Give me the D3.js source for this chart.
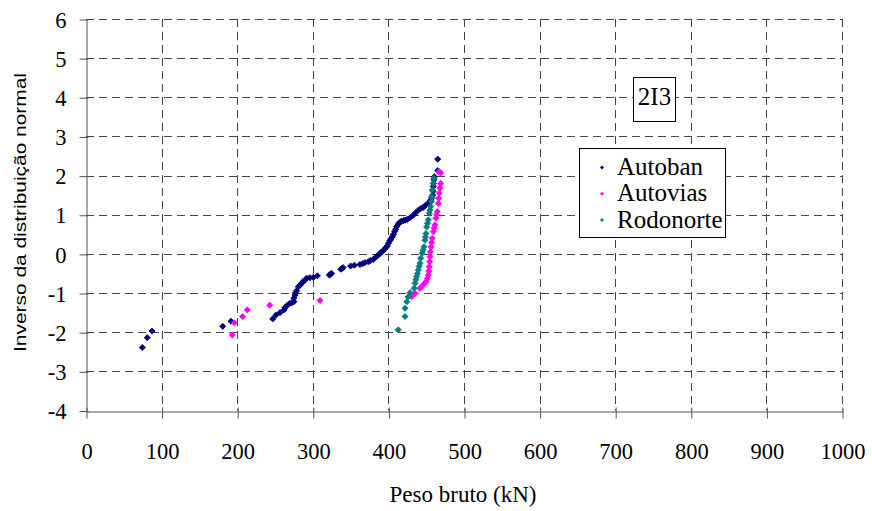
<!DOCTYPE html>
<html><head><meta charset="utf-8">
<script src="https://cdn.jsdelivr.net/npm/d3@7"></script>
<style>body{margin:0;background:#fff}svg{display:block}
.serif{font-family:"Liberation Serif","Times New Roman",Times,serif}
.sans{font-family:"Liberation Sans",Arial,Helvetica,sans-serif}</style>
</head><body>
<svg id="c" width="872" height="511"></svg>
<script>
const xTicks = [0,100,200,300,400,500,600,700,800,900,1000];
const yTicks = [-4,-3,-2,-1,0,1,2,3,4,5,6];
const seriesNames = ["Autoban","Autovias","Rodonorte"];
const seriesColors = ["#000080","#FF00FF","#008080"];
const boxLabel = "2I3";

const autobanX = [74.5,81,87.3,180.8,191.8,247,251.3,256.6,262,263.2,266,269,272,275,275,276.5,277,278.7,280.8,283,285.3,287,289.7,291.9,296,300.7,306,321.9,323,325,337,339,340,350,355,362.4,366,369,373.4,376,380,383,385.4,388.9,391,394.2,396,398.6,400,402,403.5,405.2,406.7,408.3,409.6,411,412.7,414.4,417,419.7,422,425,429,433,436,439.8,443,446.2,449,452.8,454.5,456.3,457.5,458.5,459,459.3,459.8,460.3,460.8,465.2,465.2];
const autobanY = [-2.39,-2.14,-1.97,-1.85,-1.72,-1.66,-1.56,-1.50,-1.43,-1.37,-1.32,-1.27,-1.25,-1.22,-1.13,-1.05,-1.0,-0.94,-0.84,-0.8,-0.75,-0.71,-0.67,-0.62,-0.61,-0.60,-0.56,-0.54,-0.52,-0.50,-0.39,-0.37,-0.35,-0.31,-0.29,-0.27,-0.25,-0.22,-0.20,-0.17,-0.14,-0.09,-0.05,0.01,0.05,0.10,0.15,0.20,0.27,0.34,0.39,0.44,0.50,0.57,0.63,0.70,0.75,0.80,0.83,0.85,0.86,0.88,0.93,0.99,1.05,1.12,1.16,1.19,1.24,1.29,1.33,1.38,1.44,1.50,1.60,1.72,1.80,1.89,1.97,2.13,2.42];

const autoviasX = [193.6,196.2,207.2,213.4,243,309.5,430.8,435.2,441.8,446.2,449.7,451.5,452.8,453.5,454.1,454.6,455,455.6,456.3,457.2,458.1,459.4,460.5,461.6,462.96,463.8,464.7,466,466.6,467.3,468.3,469.2,467,469.2];
const autoviasY = [-2.07,-1.76,-1.60,-1.43,-1.31,-1.19,-1.09,-1.01,-0.88,-0.79,-0.71,-0.63,-0.54,-0.44,-0.33,-0.2,-0.07,0.05,0.18,0.29,0.40,0.57,0.66,0.74,0.91,1.0,1.08,1.29,1.42,1.55,1.68,1.80,2.1,2.07];

const rodonorteX = [413,422,422,424.4,426,428.6,434,435.2,436.3,437.4,438.5,439.6,440.7,441.8,442.7,444.8,446,447,448.4,449,449.7,450.6,451.7,452.8,454.1,455,456,457,457.3,458.1,459.4,460.3];
const rodonorteY = [-1.94,-1.60,-1.39,-1.22,-1.1,-0.99,-0.88,-0.75,-0.66,-0.58,-0.5,-0.41,-0.32,-0.24,-0.11,0.02,0.1,0.18,0.35,0.43,0.52,0.69,0.78,0.87,1.04,1.12,1.21,1.34,1.46,1.63,1.80,1.93];

const svg = d3.select("#c");
const L = 86, R = 842, T = 19, B = 410.5;
const x = d3.scaleLinear().domain([0,1000]).range([L,R]);
const y = d3.scaleLinear().domain([-4,6]).range([B,T]);
const fmt = d => String(d);

// gridlines
const g = svg.append("g");
g.selectAll("line.h").data(yTicks.filter(d=>d>-4)).join("line")
  .attr("x1",L).attr("x2",R).attr("y1",d=>Math.round(y(d))+0.5).attr("y2",d=>Math.round(y(d))+0.5)
  .attr("stroke","#444").attr("stroke-dasharray","8,5");
g.selectAll("line.v").data(xTicks.filter(d=>d>0)).join("line")
  .attr("y1",T).attr("y2",B).attr("x1",d=>Math.round(x(d))+0.5).attr("x2",d=>Math.round(x(d))+0.5)
  .attr("stroke","#444").attr("stroke-dasharray","8,5");

// axes
const yAxis = d3.axisLeft(y).tickValues(yTicks).tickSize(7).tickSizeOuter(0).tickPadding(13).tickFormat(fmt);
const ya = svg.append("g").attr("transform",`translate(${L+0.5},0.5)`).call(yAxis);
const xAxis = d3.axisBottom(x).tickValues(xTicks).tickSize(7).tickSizeOuter(0).tickPadding(25).tickFormat(fmt);
const xa = svg.append("g").attr("transform",`translate(0.5,${Math.round(B)+0.5})`).call(xAxis);
[ya,xa].forEach(a=>{
  a.attr("font-family",null).attr("font-size",null);
  a.select(".domain").attr("stroke","#555");
  a.selectAll(".tick line").attr("stroke","#555");
  a.selectAll("text").attr("class","serif").attr("font-size",22.5).attr("fill","#000");
});
ya.selectAll(".tick line").attr("x1",2);
xa.selectAll(".tick line").attr("y1",-4);
ya.selectAll("text").attr("dy","0.34em");

// axis titles
svg.append("text").attr("class","serif").attr("x",463).attr("y",502).attr("text-anchor","middle")
  .attr("font-size",23).text("Peso bruto (kN)");
svg.append("text").attr("class","sans").attr("transform","translate(25.5,212.5) rotate(-90)").attr("text-anchor","middle")
  .attr("font-size",17).attr("textLength",279).attr("lengthAdjust","spacingAndGlyphs")
  .text("Inverso da distribuição normal");

// points (Excel-style diamond: square rotated 45°)
const sym = d3.symbol().type(d3.symbolSquare).size(19);
const data = [
  {xs:autobanX, ys:autobanY},
  {xs:autoviasX, ys:autoviasY},
  {xs:rodonorteX, ys:rodonorteY}
];
data.forEach((s,i)=>{
  svg.append("g").selectAll("path").data(s.xs.map((v,j)=>[v,s.ys[j]])).join("path")
    .attr("d",sym).attr("transform",d=>`translate(${x(d[0])},${y(d[1])}) rotate(45)`)
    .attr("fill",seriesColors[i]).attr("stroke",seriesColors[i]).attr("stroke-width",0.8);
});

// label box
svg.append("rect").attr("x",633.5).attr("y",77.5).attr("width",42).attr("height",44)
  .attr("fill","#fff").attr("stroke","#000");
svg.append("text").attr("class","serif").attr("x",654.5).attr("y",105).attr("text-anchor","middle")
  .attr("font-size",25).text(boxLabel);

// legend
svg.append("rect").attr("x",579.5).attr("y",148.5).attr("width",146).attr("height",89)
  .attr("fill","#fff").attr("stroke","#000");
const lg = svg.append("g");
seriesNames.forEach((n,i)=>{
  const base = 175 + i*26.3;
  lg.append("path").attr("d",d3.symbol().type(d3.symbolSquare).size(8)).attr("transform",`translate(602,${base-7.5}) rotate(45)`).attr("fill",seriesColors[i]);
  lg.append("text").attr("class","serif").attr("x",617).attr("y",base).attr("font-size",25).text(n);
});
</script>
</body></html>
